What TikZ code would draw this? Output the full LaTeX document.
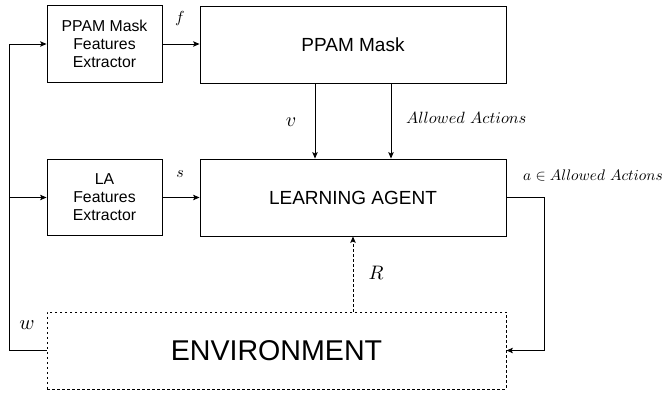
\documentclass[tikz,border=0pt]{standalone}
\usepackage{fontspec}
\newfontfamily\boxfont{Liberation Sans}
\usetikzlibrary{arrows.meta}
\tikzset{
  box/.style={draw, line width=0.9pt, inner sep=0pt, align=center},
  smallbox/.style={box, minimum width=115pt, minimum height=76.5pt, font=\boxfont\fontsize{15.8}{18}\selectfont},
  bigbox/.style={box, minimum width=306pt, minimum height=77pt, font=\boxfont\fontsize{19}{22}\selectfont},
  envbox/.style={box, dash pattern=on 2.5pt off 2.5pt, minimum width=459pt, minimum height=77pt, font=\boxfont\fontsize{28.6}{34}\selectfont},
  conn/.style={line width=0.9pt, -{Stealth[length=6.5pt,width=5.5pt,inset=1.5pt]}},
  lbl/.style={inner sep=0pt}
}
\begin{document}
\begin{tikzpicture}[x=1pt,y=-1pt]
\useasboundingbox (0,0) rectangle (662,395);

\node[smallbox] (fe1) at (104.5,44) {PPAM Mask\\Features\\Extractor};
\node[bigbox] (mask) at (353,44.5) {PPAM Mask};
\node[smallbox] (lafe) at (104.5,197.5) {LA\\Features\\Extractor};
\node[bigbox] (la) at (353,197.5) {LEARNING AGENT};
\node[envbox] (env) at (276.5,350.5) {ENVIRONMENT};

\coordinate (lt) at (9,44);
\coordinate (lm) at (9,197.5);
\coordinate (lb) at (9,350.5);
\coordinate (vx) at (315,0);
\coordinate (ax) at (391,0);
\coordinate (rt) at (544,197.5);

% feedback from environment to extractors
\draw[conn] (env.west) -- (lb) -- (lt) -- (fe1.west);
\draw[conn] (lm) -- (lafe.west);

% extractor outputs
\draw[conn] (fe1.east) -- (fe1.east -| mask.west);
\draw[conn] (lafe.east) -- (lafe.east -| la.west);

% mask to agent
\draw[conn] (mask.south -| vx) -- (la.north -| vx);
\draw[conn] (mask.south -| ax) -- (la.north -| ax);

% reward
\draw[conn, dash pattern=on 2.5pt off 2.5pt] (la.south |- env.north) -- (la.south);

% action
\draw[conn] (la.east) -- (rt) |- (env.east);

% labels
\node[lbl] (lf) at (180,19) {\scalebox{1.6}{$f$}};
\node[lbl] (ls) at (180,174) {\scalebox{1.6}{$s$}};
\node[lbl] (lv) at (291,122) {\scalebox{2.0}{$v$}};
\node[lbl, anchor=west] (lal) at (406,118) {\scalebox{1.63}{$Allowed\ Actions$}};
\node[lbl] (lr) at (376,273) {\scalebox{1.95}{$R$}};
\node[lbl] (lw) at (27,325) {\scalebox{2.05}{$w$}};
\node[lbl, anchor=west] (la2) at (523,175) {\scalebox{1.53}{$a\in Allowed\ Actions$}};
\end{tikzpicture}
\end{document}
